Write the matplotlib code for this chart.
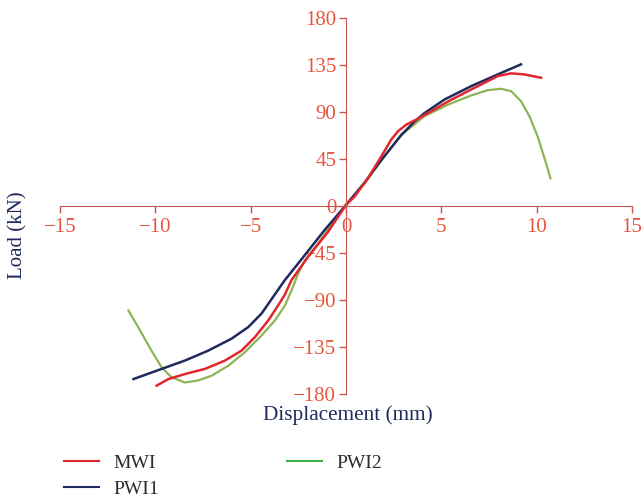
import matplotlib.pyplot as plt
from matplotlib.lines import Line2D

# Load-displacement curves
mwi_x = [-9.93, -9.32, -8.45, -7.4, -6.35, -5.48, -4.78, -4.08, -3.56, -3.21, -2.86, -1.99, -0.94, 0,
         0.45, 1.15, 1.85, 2.37, 2.72, 3.16, 3.68, 4.47, 5.34, 6.56, 7.96, 8.66, 9.35, 10.23]
mwi_y = [-172, -165.7, -160.9, -156, -148, -138.5, -125.6, -109.6, -95.2, -85, -71, -48.7, -24.7, 1,
         9, 26.6, 47.4, 63.5, 71.5, 77.9, 82.7, 90.7, 100, 111.5, 124.4, 127, 126, 122.8]

pwi1_x = [-11.15, -9.67, -8.45, -7.23, -6.0, -5.13, -4.43, -3.21, -2.16, -1.12, 0,
          1.0, 1.9, 2.9, 3.6, 4.12, 5.17, 6.56, 7.96, 9.18]
pwi1_y = [-165.7, -156, -148, -138.5, -127, -116, -103, -71, -47, -23, 1,
          23, 45, 68, 81, 89, 102, 114.7, 126, 135.6]

pwi2_x = [-11.41, -10.9, -10.2, -9.67, -9.15, -8.45, -7.75, -7.05, -6.18, -5.3, -4.43, -3.73, -3.2,
          -2.86, -2.51, -2.16, -1.47, -0.77, 0, 0.98, 1.85, 2.9, 4.12, 5.34, 6.56, 7.43, 8.13,
          8.66, 9.18, 9.62, 10.05, 10.49, 10.72]
pwi2_y = [-100, -116, -138.5, -154.5, -164, -169, -167, -162.5, -153, -140, -124, -109.6, -95.2,
          -81, -64.7, -52, -36, -18.3, 1, 21.8, 44, 68, 86, 97, 105.8, 110.9, 112.2,
          110, 100.3, 85.9, 66.7, 41, 26.6]

x_ticks = [-15, -10, -5, 0, 5, 10, 15]
y_ticks = [-180, -135, -90, -45, 0, 45, 90, 135, 180]

red = "#e3262e"
navy = "#1f2a5e"
green = "#8db556"
axis_col = "#c9564f"
tick_col = "#e8553e"

plt.rcParams["font.family"] = ["Liberation Serif", "DejaVu Serif"]

fig = plt.figure(figsize=(6.43, 5.0), dpi=100)
ax = fig.add_axes([60 / 643, 106 / 500, 572 / 643, 376 / 500])

ax.plot(pwi2_x, pwi2_y, color=green, lw=1.6, solid_joinstyle="round")
ax.plot(pwi1_x, pwi1_y, color=navy, lw=1.8, solid_joinstyle="round")
ax.plot(mwi_x, mwi_y, color=red, lw=1.8, solid_joinstyle="round")

ax.set_xlim(-15, 15)
ax.set_ylim(-180, 180)
ax.set_xticks(x_ticks)
ax.set_yticks(y_ticks)
ax.set_xticklabels(["\u2212" + str(-v) if v < 0 else str(v) for v in x_ticks])
ax.set_yticklabels(["\u2212" + str(-v) if v < 0 else str(v) for v in y_ticks])

for side in ["top", "right"]:
    ax.spines[side].set_visible(False)
ax.spines["left"].set_position(("data", 0))
ax.spines["bottom"].set_position(("data", 0))
ax.spines["left"].set_color(axis_col)
ax.spines["bottom"].set_color(axis_col)
ax.tick_params(axis="both", colors=axis_col, labelcolor=tick_col, labelsize=15,
               length=5, width=1, direction="out")
ax.tick_params(axis="x", pad=4)
ax.tick_params(axis="y", pad=2)

fig.text(18 / 643, 1 - 235 / 500, "Load (kN)", rotation=90, color=navy,
         fontsize=15, ha="center", va="center")
fig.text(348 / 643, 1 - 415 / 500, "Displacement (mm)", color=navy,
         fontsize=15.3, ha="center", va="center")

handles = [Line2D([], [], color=red, lw=1.5),
           Line2D([], [], color=navy, lw=1.5),
           Line2D([], [], color="#3fae49", lw=1.5)]
fig.legend(handles, ["MWI", "PWI1", "PWI2"], ncol=2, frameon=False,
           loc="upper left", bbox_to_anchor=(64 / 643, 1 - 454 / 500),
           borderaxespad=0, borderpad=0,
           fontsize=14, handlelength=1.8, handletextpad=0.72, columnspacing=6.6,
           labelspacing=0.45, labelcolor="#2b2b2b")

fig.savefig("out.png", dpi=100)
